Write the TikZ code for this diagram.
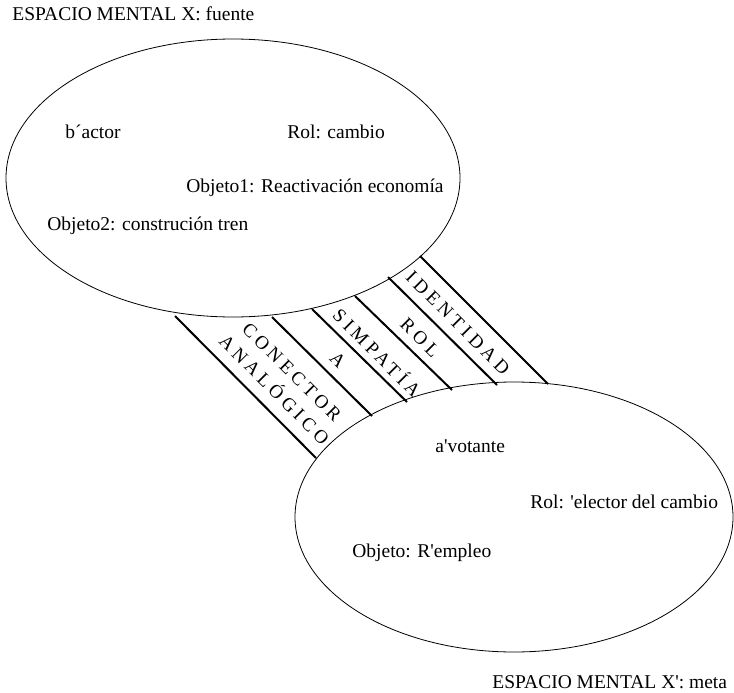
\documentclass[tikz,border=0pt]{standalone}
\usepackage{fontspec}
\setmainfont{Liberation Serif}
\newfontfamily\bandfont[LetterSpace=22]{Liberation Serif}
\usetikzlibrary{shapes.geometric}

\tikzset{every picture/.style={line width=0.75pt}}
\tikzset{
  espacio/.style={draw, ellipse, inner sep=0pt, line width=0.8pt},
  banda/.style={line width=2pt},
  rotulo/.style={anchor=base west, inner sep=0pt, font=\fontsize{19.5}{22}\selectfont},
  letras/.style={rotate=-45, inner sep=0pt, align=center, font=\bandfont\fontsize{19}{25}\selectfont}
}

\begin{document}
\begin{tikzpicture}[x=1pt,y=1pt,yscale=-1,xscale=1]
\useasboundingbox (0,0) rectangle (734,693);

% espacios mentales
\node [espacio, minimum width=454pt, minimum height=278pt] (fuente) at (233,178) {};
\node [espacio, minimum width=438pt, minimum height=270pt] (meta) at (514,517) {};

% banda de conectores
\draw [banda] (175,316) -- (316,458) ;
\draw [banda] (272,317) -- (372,416) ;
\draw [banda] (312,309) -- (407,402) ;
\draw [banda] (355,296) -- (452,390) ;
\draw [banda] (388,277) -- (497,385) ;
\draw [banda] (420,256) -- (548,384) ;

\draw (283,381) node [letras] (conector) {CONECTOR\\ANALÓGICO};
\draw (338,360) node [letras] (a) {A};
\draw (378,352) node [letras] (simpatia) {SIMPATÍA};
\draw (420,338) node [letras] (rol) {ROL};
\draw (458,323) node [letras] (identidad) {IDENTIDAD};

% textos
\draw (12,21) node [rotulo] (xfuente) {ESPACIO MENTAL X: fuente};
\draw (65,138) node [rotulo] (actor) {b´actor};
\draw (287,138) node [rotulo] (rolcambio) {Rol: cambio};
\draw (186,192) node [rotulo] (objeto1) {Objeto1: Reactivación economía};
\draw (47,230) node [rotulo] (objeto2) {Objeto2: construción tren};
\draw (435,452) node [rotulo] (votante) {a\textquotesingle votante};
\draw (530,508) node [rotulo] (elector) {Rol: \textquotesingle elector del cambio};
\draw (352,557) node [rotulo] (empleo) {Objeto: R\textquotesingle empleo};
\draw (492,688) node [rotulo] (xmeta) {ESPACIO MENTAL X\textquotesingle: meta};

\end{tikzpicture}
\end{document}
